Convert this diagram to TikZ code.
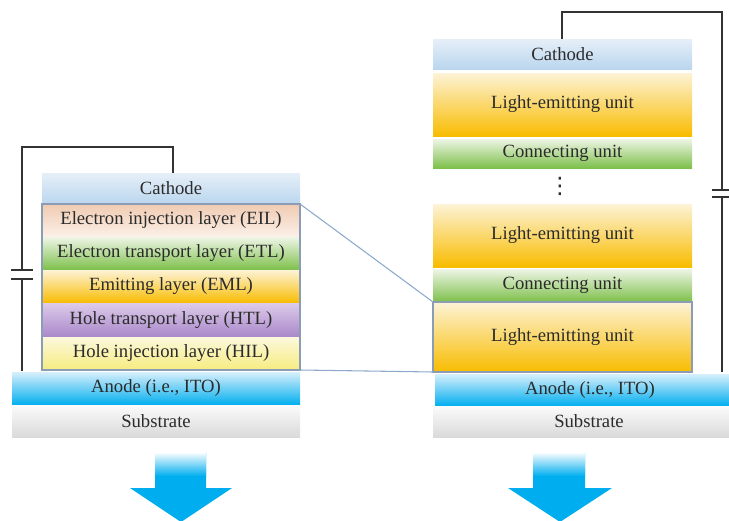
\documentclass[tikz,border=0pt]{standalone}
\usepackage{fontspec}
\setmainfont{Liberation Serif}
\newfontfamily\dejavu{DejaVu Sans}
\definecolor{txt}{HTML}{2B2B2B}
\definecolor{wire}{HTML}{333333}
\definecolor{zline}{HTML}{8EA9C9}
\definecolor{frame}{HTML}{8A9DB5}
\definecolor{cathT}{HTML}{E6EFF8}\definecolor{cathB}{HTML}{BAD6EE}
\definecolor{eilT}{HTML}{F0CBB2}\definecolor{eilB}{HTML}{FBF0E8}
\definecolor{etlT}{HTML}{EEF5E6}\definecolor{etlB}{HTML}{7DC04A}
\definecolor{emlT}{HTML}{FDF3D6}\definecolor{emlB}{HTML}{F8BC00}
\definecolor{htlT}{HTML}{DCCBEA}\definecolor{htlB}{HTML}{A987C9}
\definecolor{hilT}{HTML}{FBF8DC}\definecolor{hilB}{HTML}{F7EC80}
\definecolor{anoT}{HTML}{D7EFFB}\definecolor{anoB}{HTML}{00AEEF}
\definecolor{subT}{HTML}{FBFBFB}\definecolor{subB}{HTML}{DADADA}
\definecolor{arrowblue}{HTML}{00AEEF}
% layer: style, name, x1, y1, x2, y2, text (pixel coordinates)
\newcommand\mklayer[7]{%
  \node[#1, minimum width={(#5-#3)*0.75pt}, minimum height={(#6-#4)*0.75pt}]
    (#2) at ({(#3+#5)/2},{(#4+#6)/2}) {#7};}
\begin{document}
\begin{tikzpicture}[x=0.75pt,y=-0.75pt,
  font=\fontsize{14}{16}\selectfont,
  lay/.style={inner sep=0pt, outer sep=0pt, text=txt, anchor=center},
  cath/.style={lay, top color=cathT, bottom color=cathB},
  eil/.style={lay, top color=eilT, bottom color=eilB},
  etl/.style={lay, top color=etlT, bottom color=etlB},
  eml/.style={lay, top color=emlT, bottom color=emlB},
  htl/.style={lay, top color=htlT, bottom color=htlB},
  hil/.style={lay, top color=hilT, bottom color=hilB},
  ano/.style={lay, top color=anoT, bottom color=anoB},
  sub/.style={lay, top color=subT, bottom color=subB},
  leu/.style={lay, top color=emlT, bottom color=emlB},
  con/.style={lay, top color=etlT, bottom color=etlB},
  outline/.style={draw=frame, line width=0.8pt, inner sep=0pt, outer sep=0pt, anchor=center},
  wireline/.style={draw=wire, line width=1pt},
  zoomline/.style={draw=zline, line width=0.8pt},
  bigarrow/.style={fill=arrowblue, draw=none},
  fadeshaft/.style={top color=white, bottom color=arrowblue, draw=none}]
\useasboundingbox (0,0) rectangle (729,521);

% ---------- left device ----------
\mklayer{cath}{cathL}{42}{173}{300}{204}{Cathode}
\mklayer{eil}{eil}{42}{204}{300}{237}{Electron injection layer (EIL)}
\mklayer{etl}{etl}{42}{237}{300}{270}{Electron transport layer (ETL)}
\mklayer{eml}{eml}{42}{270}{300}{303}{Emitting layer (EML)}
\mklayer{htl}{htl}{42}{303}{300}{337}{Hole transport layer (HTL)}
\mklayer{hil}{hil}{42}{337}{300}{370}{Hole injection layer (HIL)}
\mklayer{outline}{stackL}{42}{204}{300}{370}{}
\mklayer{ano}{anoL}{12}{372}{300}{405}{Anode (i.e., ITO)}
\mklayer{sub}{subL}{12}{405}{300}{437}{Substrate}

% ---------- right device ----------
\mklayer{cath}{cathR}{433}{39}{692}{69}{Cathode}
\mklayer{leu}{leu1}{433}{73}{692}{136}{Light-emitting unit}
\mklayer{con}{con1}{433}{139}{692}{168}{Connecting unit}
\node[text=txt, inner sep=0pt, font=\dejavu\fontsize{17}{17}\selectfont] (dots) at (560,186) {⋮};
\mklayer{leu}{leu2}{433}{204}{692}{267}{Light-emitting unit}
\mklayer{con}{con2}{433}{269}{692}{302}{Connecting unit}
\mklayer{leu}{leu3}{433}{302}{692}{372}{Light-emitting unit}
\mklayer{outline}{leu3frame}{433}{302}{692}{372}{}
\mklayer{ano}{anoR}{435}{374}{745}{406}{Anode (i.e., ITO)}
\mklayer{sub}{subR}{433}{406}{745}{437}{Substrate}

% ---------- zoom lines ----------
\draw[zoomline] (stackL.north east) -- (leu3frame.north west);
\draw[zoomline] (stackL.south east) -- (leu3frame.south west);

% ---------- left circuit ----------
\coordinate (lc1) at (173,173);
\coordinate (lc2) at (173,147);
\coordinate (lc3) at (22,147);
\coordinate (lbat1) at (22,270);
\coordinate (lbat2) at (22,279);
\coordinate (lc4) at (22,371);
\draw[wireline] (lc1) -- (lc2) -- (lc3) -- (lbat1);
\draw[wireline] (11,270) -- (33,270);
\draw[wireline] (11,279) -- (33,279);
\draw[wireline] (lbat2) -- (lc4);

% ---------- right circuit ----------
\coordinate (rc1) at (562,39);
\coordinate (rc2) at (562,12);
\coordinate (rc3) at (722,12);
\coordinate (rbat1) at (722,190);
\coordinate (rbat2) at (722,197);
\coordinate (rc4) at (722,372);
\draw[wireline] (rc1) -- (rc2) -- (rc3) -- (rbat1);
\draw[wireline] (712,190) -- (729,190);
\draw[wireline] (712,197) -- (729,197);
\draw[wireline] (rbat2) -- (rc4);

% ---------- light arrows ----------
\fill[bigarrow] (155,452) -- (206,452) -- (206,488) -- (232,488) -- (181,522) -- (130,488) -- (155,488) -- cycle;
\fill[fadeshaft] (155,452) rectangle (206,476);
\fill[bigarrow] (533,452) -- (585,452) -- (585,488) -- (612,488) -- (560,522) -- (508,488) -- (533,488) -- cycle;
\fill[fadeshaft] (533,452) rectangle (585,476);
\end{tikzpicture}
\end{document}
